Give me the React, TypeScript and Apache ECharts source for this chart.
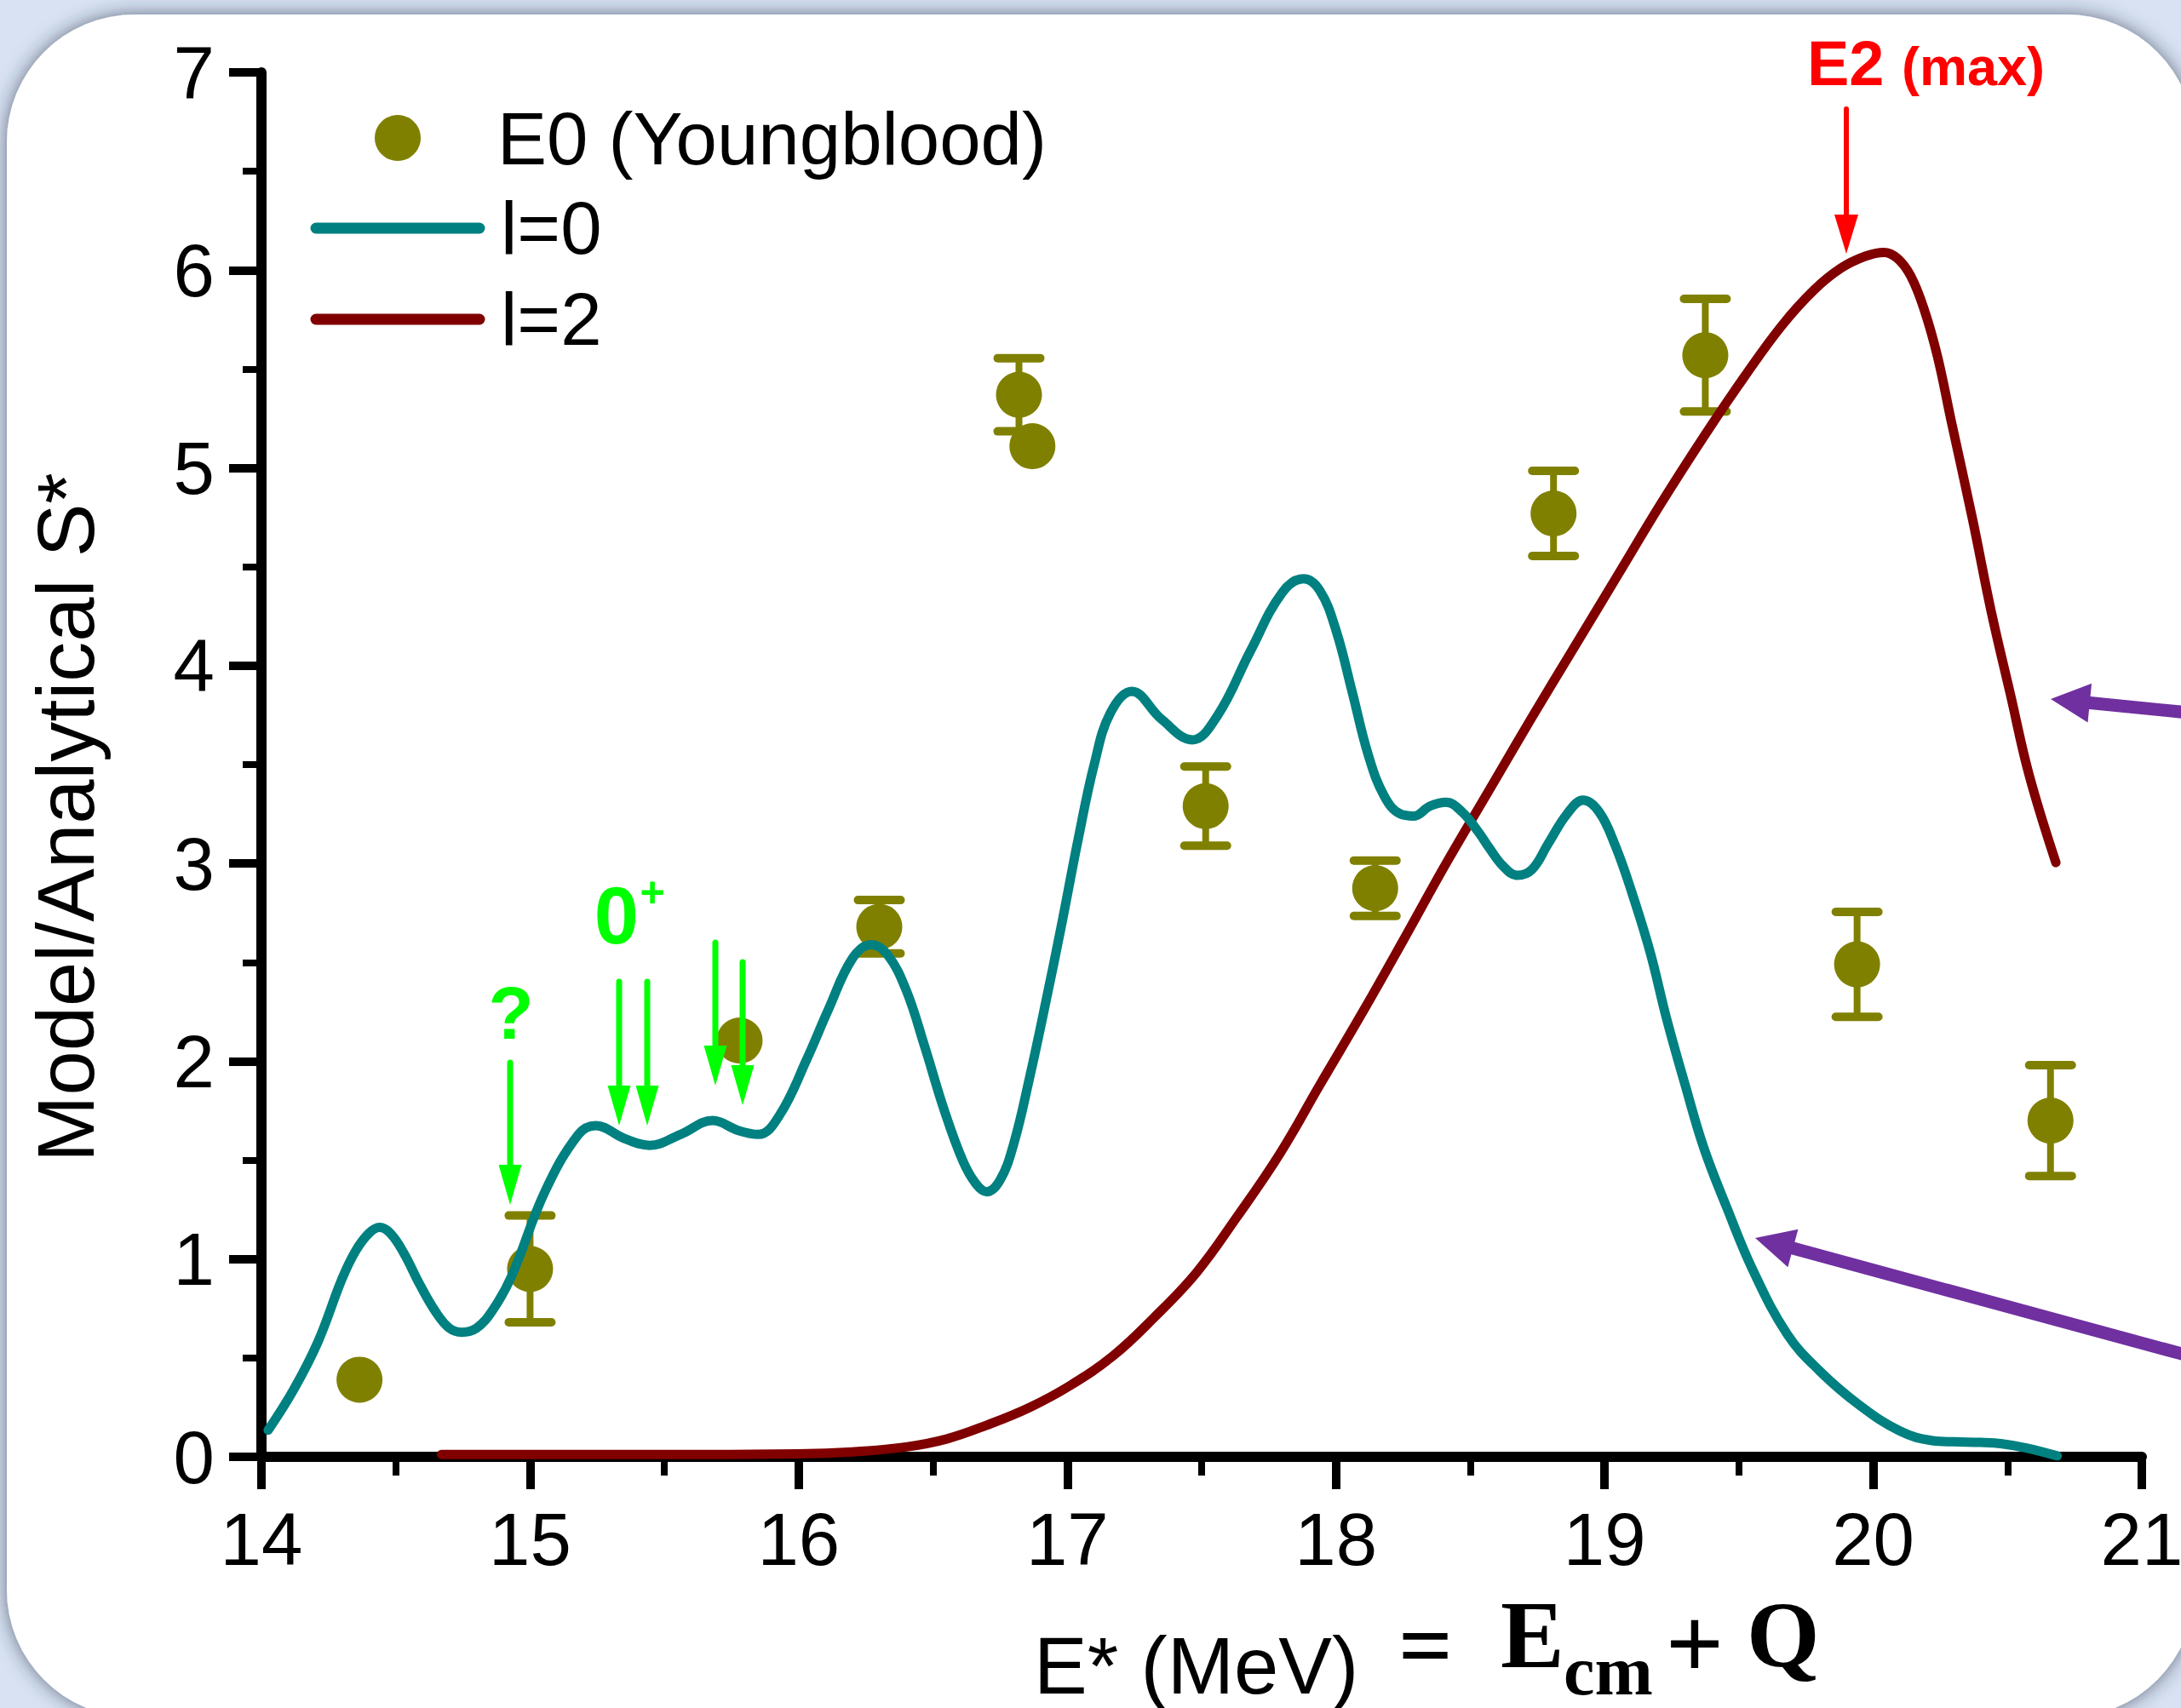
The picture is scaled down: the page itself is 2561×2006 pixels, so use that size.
import React, { useEffect, useRef } from 'react';
import * as echarts from 'echarts';

// ---------- data ----------
const xTickValues = [14, 15, 16, 17, 18, 19, 20, 21];
const yTickValues = [0, 1, 2, 3, 4, 5, 6, 7];

// E0 (Youngblood) experimental points: [E*, S*]
const e0Points: number[][] = [
  [14.365, 0.39], [15.0, 0.95], [15.78, 2.105], [16.3, 2.68], [16.82, 5.37], [16.87, 5.11],
  [17.515, 3.29], [18.146, 2.875], [18.81, 4.77], [19.375, 5.57], [19.94, 2.49], [20.66, 1.7],
];
// symmetric error of each point (0 = none drawn)
const e0Errors = [0, 0.27, 0, 0.135, 0.185, 0, 0.2, 0.14, 0.215, 0.285, 0.265, 0.28];

// l=0 model curve
const l0Curve: number[][] = [
  [14.025, 0.135], [14.12, 0.34], [14.21, 0.58], [14.3, 0.9], [14.35, 1.04], [14.4, 1.13],
  [14.44, 1.16], [14.48, 1.13], [14.53, 1.03], [14.59, 0.87], [14.65, 0.73], [14.7, 0.65],
  [14.745, 0.63], [14.8, 0.65], [14.86, 0.74], [14.93, 0.91], [15.055, 1.34], [15.18, 1.63],
  [15.245, 1.675], [15.35, 1.61], [15.445, 1.575], [15.56, 1.63], [15.68, 1.7], [15.775, 1.65],
  [15.85, 1.63], [15.93, 1.73], [16.03, 2.01], [16.11, 2.26], [16.2, 2.52], [16.27, 2.59],
  [16.33, 2.54], [16.4, 2.36], [16.47, 2.07], [16.54, 1.76], [16.61, 1.5], [16.66, 1.38],
  [16.7, 1.34], [16.75, 1.4], [16.8, 1.58], [16.86, 1.92], [16.92, 2.3], [16.98, 2.7],
  [17.04, 3.12], [17.1, 3.5], [17.16, 3.76], [17.24, 3.87], [17.35, 3.73], [17.465, 3.625],
  [17.56, 3.75], [17.68, 4.07], [17.8, 4.37], [17.88, 4.44], [17.94, 4.38], [18.0, 4.18],
  [18.06, 3.87], [18.12, 3.55], [18.18, 3.34], [18.24, 3.25], [18.29, 3.24], [18.35, 3.29],
  [18.41, 3.31], [18.47, 3.26], [18.53, 3.16], [18.57, 3.08], [18.62, 2.99], [18.675, 2.94],
  [18.73, 2.97], [18.79, 3.1], [18.86, 3.25], [18.92, 3.32], [18.98, 3.26], [19.04, 3.09],
  [19.1, 2.86], [19.17, 2.55], [19.23, 2.22], [19.3, 1.88], [19.37, 1.56], [19.455, 1.26],
  [19.55, 0.95], [19.68, 0.62], [19.8, 0.435], [19.95, 0.26], [20.1, 0.13], [20.22, 0.082],
  [20.3, 0.076], [20.4, 0.073], [20.48, 0.066], [20.57, 0.045], [20.685, 0.005],
];

// l=2 model curve
const l2Curve: number[][] = [
  [14.67, 0.012], [15.0, 0.012], [15.5, 0.012], [16.0, 0.015], [16.2, 0.025], [16.4, 0.05],
  [16.55, 0.09], [16.7, 0.16], [16.86, 0.25], [17.01, 0.36], [17.17, 0.51], [17.32, 0.7],
  [17.48, 0.93], [17.63, 1.21], [17.79, 1.53], [17.94, 1.88], [18.1, 2.25], [18.25, 2.61],
  [18.41, 3.0], [18.57, 3.37], [18.73, 3.74], [18.89, 4.1], [19.05, 4.46], [19.21, 4.82],
  [19.38, 5.18], [19.52, 5.46], [19.66, 5.72], [19.78, 5.9], [19.88, 6.01], [19.97, 6.07],
  [20.04, 6.09], [20.09, 6.06], [20.14, 5.97], [20.19, 5.8], [20.24, 5.56], [20.29, 5.24],
  [20.37, 4.74], [20.44, 4.27], [20.51, 3.86], [20.58, 3.45], [20.68, 3.005],
];

// ---------- styling constants ----------
const OLIVE = '#808000';
const TEAL = '#008080';
const MAROON = '#800000';
const GREEN = '#00ff00';
const RED = '#ff0000';
const PURPLE = '#7030a0';
const SANS = '"Liberation Sans", Arial, Helvetica, sans-serif';
const SERIF = '"Liberation Serif", "Times New Roman", serif';

function txt(text: string, x: number, y: number, fontSize: number, opts: any = {}) {
  const align = opts.align || 'left';
  return {
    type: 'text',
    x,
    y,
    z: 100,
    rotation: opts.rotation || 0,
    style: {
      text,
      fontSize,
      fontFamily: opts.fontFamily || SANS,
      fontWeight: opts.fontWeight || 'normal',
      fill: opts.fill || '#000',
      align,
      verticalAlign: 'middle',
      textAlign: align,
      textVerticalAlign: 'middle',
    },
  };
}

function arrow(x1: number, y1: number, x2: number, y2: number, w: number, headW: number, headL: number, color: string) {
  const dx = x2 - x1;
  const dy = y2 - y1;
  const len = Math.sqrt(dx * dx + dy * dy);
  const ux = dx / len;
  const uy = dy / len;
  const bx = x2 - ux * headL;
  const by = y2 - uy * headL;
  const px = -uy;
  const py = ux;
  return [
    {
      type: 'line',
      z: 100,
      shape: { x1, y1, x2: bx + ux * 2, y2: by + uy * 2 },
      style: { stroke: color, lineWidth: w, lineCap: 'round' },
    },
    {
      type: 'polygon',
      z: 101,
      shape: {
        points: [
          [bx + (px * headW) / 2, by + (py * headW) / 2],
          [x2, y2],
          [bx - (px * headW) / 2, by - (py * headW) / 2],
        ],
      },
      style: { fill: color },
    },
  ];
}

function buildOption() {
  const errData = e0Points.map((p, i) => [p[0], p[1], e0Errors[i]]);

  const axisCommon = {
    type: 'value',
    interval: 1,
    axisLine: { show: true, onZero: false, lineStyle: { color: '#000', width: 12 } },
    axisTick: { show: true, length: 38, lineStyle: { color: '#000', width: 10 } },
    minorTick: { show: true, splitNumber: 2, length: 22, lineStyle: { color: '#000', width: 8 } },
    splitLine: { show: false },
    minorSplitLine: { show: false },
  };

  const graphics: any[] = [
    // slide panel
    {
      type: 'rect',
      z: -50,
      silent: true,
      shape: { x: 8, y: 17, width: 2569, height: 2000, r: 150 },
      style: { fill: '#ffffff', shadowBlur: 22, shadowColor: 'rgba(40,50,70,0.65)' },
    },
    // legend
    {
      type: 'circle',
      z: 100,
      shape: { cx: 467, cy: 162, r: 27 },
      style: { fill: OLIVE },
    },
    txt('E0 (Youngblood)', 584, 162, 87),
    {
      type: 'line',
      z: 100,
      shape: { x1: 371, y1: 268, x2: 563, y2: 268 },
      style: { stroke: TEAL, lineWidth: 13, lineCap: 'round' },
    },
    txt('l=0', 588, 267, 87),
    {
      type: 'line',
      z: 100,
      shape: { x1: 371, y1: 375, x2: 563, y2: 375 },
      style: { stroke: MAROON, lineWidth: 13, lineCap: 'round' },
    },
    txt('l=2', 588, 374, 87),
    // y axis title
    txt('Model/Analytical S*', 77, 960, 94, { align: 'center', rotation: Math.PI / 2 }),
    // x axis title
    txt('E* (MeV)', 1214, 1956, 94),
    txt('=', 1674, 1932, 112, { align: 'center', fontFamily: SERIF, fontWeight: 'bold' }),
    txt('E', 1762, 1920, 112, { fontFamily: SERIF, fontWeight: 'bold' }),
    txt('cm', 1836, 1962, 82, { fontFamily: SERIF, fontWeight: 'bold' }),
    txt('+', 1990, 1930, 120, { align: 'center', fontFamily: SERIF, fontWeight: 'bold' }),
    txt('Q', 2051, 1920, 110, { fontFamily: SERIF, fontWeight: 'bold' }),
    // red annotation
    txt('E2', 2122, 74, 74, { fill: RED, fontWeight: 'bold' }),
    txt('(max)', 2233, 78, 63, { fill: RED, fontWeight: 'bold' }),
    ...arrow(2168, 128, 2168, 298, 6, 28, 46, RED),
    // green annotations
    txt('?', 600, 1189, 87, { align: 'center', fill: GREEN, fontWeight: 'bold' }),
    txt('0', 724, 1075, 94, { align: 'center', fill: GREEN, fontWeight: 'bold' }),
    txt('+', 766, 1048, 50, { align: 'center', fill: GREEN, fontWeight: 'bold' }),
    ...arrow(599, 1248, 599, 1415, 7, 27, 47, GREEN),
    ...arrow(727, 1153, 727, 1322, 7, 27, 47, GREEN),
    ...arrow(760, 1153, 760, 1322, 7, 27, 47, GREEN),
    ...arrow(840, 1107, 840, 1275, 7, 27, 47, GREEN),
    ...arrow(872, 1130, 872, 1298, 7, 27, 47, GREEN),
    // purple pointers
    ...arrow(2580, 838, 2408, 821, 15, 46, 46, PURPLE),
    ...arrow(2580, 1595, 2061, 1454, 15, 46, 46, PURPLE),
  ];

  return {
    animation: false,
    backgroundColor: '#d8e2f2',
    grid: { left: 307, top: 85, right: 46, bottom: 295, containLabel: false, outerBoundsMode: 'none' },
    xAxis: {
      ...axisCommon,
      min: xTickValues[0],
      max: xTickValues[xTickValues.length - 1],
      axisLabel: { fontSize: 87, color: '#000', fontFamily: SANS, margin: 53 },
    },
    yAxis: {
      ...axisCommon,
      min: yTickValues[0],
      max: yTickValues[yTickValues.length - 1],
      axisLabel: { fontSize: 87, color: '#000', fontFamily: SANS, margin: 55 },
    },
    series: [
      {
        type: 'custom',
        name: 'E0 error',
        z: 3,
        clip: false,
        data: errData,
        encode: { x: 0, y: 1 },
        renderItem: (params: any, api: any) => {
          const x = api.value(0);
          const y = api.value(1);
          const e = api.value(2);
          if (!e) return { type: 'group', children: [] };
          const top = api.coord([x, y + e]);
          const bot = api.coord([x, y - e]);
          const hw = 25;
          const st = { stroke: OLIVE, lineWidth: 8, lineCap: 'round' };
          return {
            type: 'group',
            children: [
              { type: 'line', shape: { x1: top[0], y1: top[1], x2: bot[0], y2: bot[1] }, style: st },
              { type: 'line', shape: { x1: top[0] - hw, y1: top[1], x2: top[0] + hw, y2: top[1] }, style: { ...st, lineWidth: 10 } },
              { type: 'line', shape: { x1: bot[0] - hw, y1: bot[1], x2: bot[0] + hw, y2: bot[1] }, style: { ...st, lineWidth: 10 } },
            ],
          };
        },
      },
      {
        type: 'scatter',
        name: 'E0 (Youngblood)',
        z: 4,
        symbol: 'circle',
        symbolSize: 54,
        itemStyle: { color: OLIVE, opacity: 1 },
        data: e0Points,
      },
      {
        type: 'line',
        name: 'l=2',
        z: 5,
        showSymbol: false,
        symbol: 'none',
        smooth: 0.4,
        lineStyle: { color: MAROON, width: 11, cap: 'round', join: 'round' },
        data: l2Curve,
      },
      {
        type: 'line',
        name: 'l=0',
        z: 6,
        showSymbol: false,
        symbol: 'none',
        smooth: 0.4,
        lineStyle: { color: TEAL, width: 11, cap: 'round', join: 'round' },
        data: l0Curve,
      },
    ],
    graphic: { elements: graphics },
  };
}

export default function App() {
  const ref = useRef<HTMLDivElement>(null);
  useEffect(() => {
    document.body.style.margin = '0';
    const chart = echarts.init(ref.current!, null, { renderer: 'svg' });
    chart.setOption(buildOption() as any);
    return () => chart.dispose();
  }, []);
  return <div ref={ref} style={{ width: 2561, height: 2006 }} />;
}
